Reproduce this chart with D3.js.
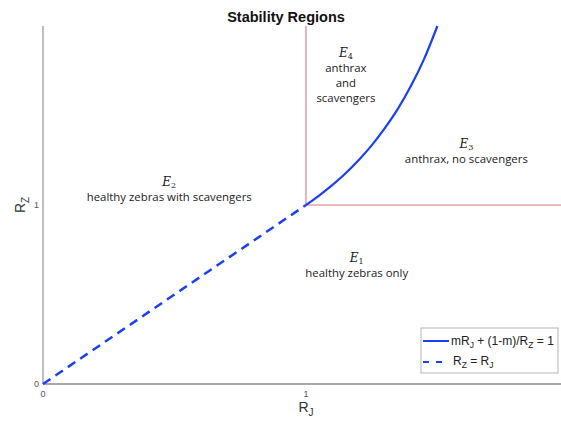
<!DOCTYPE html>
<html>
<head>
<meta charset="utf-8">
<script src="https://cdn.jsdelivr.net/npm/d3@7"></script>
<style>
  body { margin: 0; background: #fff; }
  svg { display: block; }
</style>
</head>
<body>
<div id="chart"></div>
<script>
// Boundary curve mRJ + (1-m)/RZ = 1.
const curveRJ = [1, 1.05, 1.1, 1.15, 1.2, 1.25, 1.3, 1.35, 1.4, 1.45, 1.5];
const curveRZ = [1, 1.053, 1.111, 1.176, 1.25, 1.333, 1.429, 1.538, 1.667, 1.818, 2];

// Dashed line RZ = RJ.
const diagRJ = [0, 1];
const diagRZ = [0, 1];

// Threshold lines (pink).
const threshold = 1;

const xTicks = [0, 1];
const yTicks = [0, 1];

// Region labels: subscript, position, text lines
const regionNames = ["4", "3", "2", "1"];
const regionRJ = [1.152, 1.61, 0.48, 1.193];
const regionRZ = [1.827, 1.318, 1.104, 0.681];
const regionLines = [
  ["anthrax", "and", "scavengers"],
  ["anthrax, no scavengers"],
  ["healthy zebras with scavengers"],
  ["healthy zebras only"]
];

const W = 561, H = 421;
const x = d3.scaleLinear().domain([0, 1.97]).range([43, 561]);
const y = d3.scaleLinear().domain([0, 2]).range([384, 26]);

const svg = d3.select("#chart").append("svg")
  .attr("width", W).attr("height", H);

// Title
svg.append("text")
  .attr("x", 286).attr("y", 22)
  .attr("text-anchor", "middle")
  .style("font-family", "Liberation Sans, Arial, sans-serif")
  .style("font-weight", "bold")
  .style("font-size", "14.5px")
  .attr("fill", "#111")
  .text("Stability Regions");

// Pink threshold lines
svg.append("line")
  .attr("x1", x(threshold)).attr("x2", x(threshold))
  .attr("y1", y(2)).attr("y2", y(threshold))
  .attr("stroke", "#e5a3aa").attr("stroke-width", 1.6);
svg.append("line")
  .attr("x1", x(threshold)).attr("x2", x(1.97))
  .attr("y1", y(threshold)).attr("y2", y(threshold))
  .attr("stroke", "#e5a3aa").attr("stroke-width", 1.6);

// Axes
const axisColor = "#a9a9a9";
svg.append("line")
  .attr("x1", x(0)).attr("x2", x(0))
  .attr("y1", y(2)).attr("y2", y(0))
  .attr("stroke", axisColor).attr("stroke-width", 1.5);
svg.append("line")
  .attr("x1", x(0)).attr("x2", x(1.97))
  .attr("y1", y(0)).attr("y2", y(0))
  .attr("stroke", axisColor).attr("stroke-width", 2);

const tickFont = "Liberation Sans, Arial, sans-serif";
svg.selectAll(".xt").data(xTicks).join("text")
  .attr("x", d => x(d)).attr("y", y(0) + 13)
  .attr("text-anchor", "middle")
  .style("font-family", tickFont).style("font-size", "9px")
  .attr("fill", "#555")
  .text(d => d);
svg.selectAll(".yt").data(yTicks).join("text")
  .attr("x", x(0) - 4).attr("y", d => y(d) + 3)
  .attr("text-anchor", "end")
  .style("font-family", tickFont).style("font-size", "9px")
  .attr("fill", "#555")
  .text(d => d);

// Axis titles with subscripts
const xt = svg.append("text")
  .attr("x", x(1)).attr("y", 412)
  .attr("text-anchor", "middle")
  .style("font-family", tickFont).style("font-size", "14px")
  .attr("fill", "#333");
xt.append("tspan").text("R");
xt.append("tspan").attr("dy", 4).style("font-size", "10px").text("J");

const yt = svg.append("text")
  .attr("transform", `translate(25, ${y(1)}) rotate(-90)`)
  .attr("text-anchor", "middle")
  .style("font-family", tickFont).style("font-size", "14px")
  .attr("fill", "#333");
yt.append("tspan").text("R");
yt.append("tspan").attr("dy", 4).style("font-size", "10px").text("Z");

// Lines
const blue = "#1b3ff2";
const line = d3.line().x(d => x(d[0])).y(d => y(d[1])).curve(d3.curveMonotoneX);

svg.append("path")
  .datum(diagRJ.map((v, i) => [v, diagRZ[i]]))
  .attr("d", d3.line().x(d => x(d[0])).y(d => y(d[1])))
  .attr("fill", "none").attr("stroke", blue)
  .attr("stroke-width", 2.5).attr("stroke-dasharray", "9,6");

svg.append("path")
  .datum(curveRJ.map((v, i) => [v, curveRZ[i]]))
  .attr("d", line)
  .attr("fill", "none").attr("stroke", blue)
  .attr("stroke-width", 2.2);

// Region labels
const labelFont = "Open Sans, sans-serif";
regionNames.forEach((n, i) => {
  const g = svg.append("g")
    .attr("transform", `translate(${x(regionRJ[i])}, ${y(regionRZ[i])})`);
  const e = g.append("text")
    .attr("text-anchor", "middle")
    .style("font-family", "DejaVu Serif, serif")
    .style("font-style", "italic")
    .style("font-size", "12px")
    .attr("fill", "#222");
  e.append("tspan").text("E");
  e.append("tspan").attr("dy", 2).style("font-size", "8px").style("font-style", "normal").text(n);
  regionLines[i].forEach((t, j) => {
    g.append("text")
      .attr("y", 15 + j * 15)
      .attr("text-anchor", "middle")
      .style("font-family", labelFont)
      .style("font-size", "11.4px")
      .attr("fill", "#222")
      .text(t);
  });
});

// Legend
const lg = svg.append("g");
lg.append("rect")
  .attr("x", 421).attr("y", 328).attr("width", 137).attr("height", 45)
  .attr("fill", "#fff").attr("stroke", "#b5b5b5").attr("stroke-width", 1);
lg.append("line")
  .attr("x1", 423).attr("x2", 449).attr("y1", 341).attr("y2", 341)
  .attr("stroke", blue).attr("stroke-width", 2);
lg.append("line")
  .attr("x1", 423).attr("x2", 449).attr("y1", 362).attr("y2", 362)
  .attr("stroke", blue).attr("stroke-width", 2).attr("stroke-dasharray", "6,7");

const l1 = lg.append("text").attr("x", 451).attr("y", 345)
  .style("font-family", tickFont).style("font-size", "12px").attr("fill", "#222");
l1.append("tspan").text("mR");
l1.append("tspan").attr("dy", 3).style("font-size", "8.5px").text("J");
l1.append("tspan").attr("dy", -3).text(" + (1-m)/R");
l1.append("tspan").attr("dy", 3).style("font-size", "8.5px").text("Z");
l1.append("tspan").attr("dy", -3).text(" = 1");

const l2 = lg.append("text").attr("x", 453).attr("y", 365)
  .style("font-family", tickFont).style("font-size", "12px").attr("fill", "#222");
l2.append("tspan").text("R");
l2.append("tspan").attr("dy", 3).style("font-size", "8.5px").text("Z");
l2.append("tspan").attr("dy", -3).text(" = R");
l2.append("tspan").attr("dy", 3).style("font-size", "8.5px").text("J");
</script>
</body>
</html>
